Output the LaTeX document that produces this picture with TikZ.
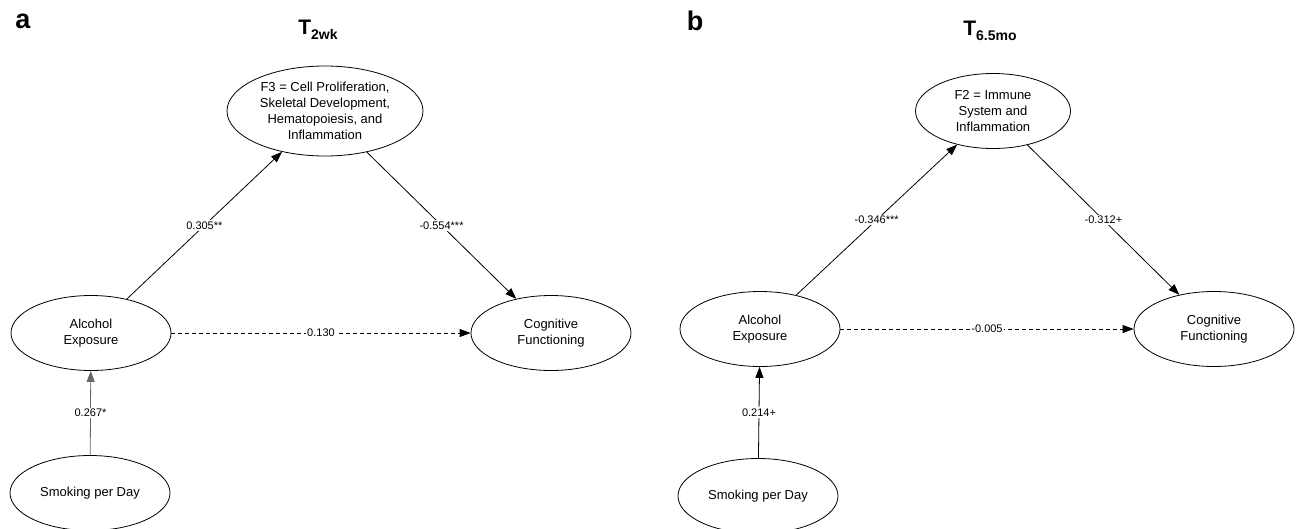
\documentclass[tikz,border=0pt]{standalone}
\usepackage{fontspec}
\setmainfont{Liberation Sans}
\usetikzlibrary{arrows.meta,
							calc,
							quotes,
							positioning,
							shapes.geometric}

\begin{document}
\begin{tikzpicture}[x=1pt, y=-1pt,
		base/.style = {draw, ellipse, line width=0.8pt, inner sep=0pt,
									 align=center, font=\fontsize{13}{16}\selectfont},
	latent/.style = {base, minimum width=160pt, minimum height=75pt},
	factor/.style = {base, minimum width=196pt, minimum height=90pt},
	 panel/.style = {font=\bfseries\fontsize{27}{27}\selectfont},
	 title/.style = {font=\bfseries\fontsize{21}{21}\selectfont},
		path/.style = {line width=0.8pt, -{Triangle[length=11pt,width=8pt]}},
	 nopath/.style = {dash pattern=on 4pt off 3pt},
every edge quotes/.style = {fill=white, inner sep=1.5pt,
									 font=\fontsize{11}{12}\selectfont}]
\useasboundingbox (0,0) rectangle (1296,528);
%% panel a
\node [panel]  (a-lbl) at (23,21)   {a};
\node [title]  (a-ttl) at (318,30)  {T\raisebox{-5pt}{\fontsize{14}{14}\selectfont 2wk}};
\node [factor] (a-fac) at (325,111) {F3 = Cell Proliferation,\\ Skeletal Development,\\
																		 Hematopoiesis, and\\ Inflammation};
\node [latent] (a-alc) at (91,333)  {Alcohol\\ Exposure};
\node [latent] (a-cog) at (551,333) {Cognitive\\ Functioning};
\node [latent] (a-smk) at (90,493)  {Smoking per Day};
%
\draw [path]
	(a-alc) edge["0.305**"]                   (a-fac)
	(a-fac) edge["-0.554***"]                 (a-cog)
	(a-alc) edge[nopath, "0.130"]             (a-cog)
	(a-smk) edge[draw=black!60, "0.267*"]     (a-alc)
	;
%% panel b
\node [panel]  (b-lbl) at (695,21)  {b};
\node [title]  (b-ttl) at (990,31)  {T\raisebox{-5pt}{\fontsize{14}{14}\selectfont 6.5mo}};
\node [latent, minimum width=155pt]
							 (b-fac) at (993,111) {F2 = Immune\\ System and\\ Inflammation};
\node [latent] (b-alc) at (760,329) {Alcohol\\ Exposure};
\node [latent] (b-cog) at (1214,329) {Cognitive\\ Functioning};
\node [latent] (b-smk) at (758,496) {Smoking per Day};
%
\draw [path]
	(b-alc) edge["-0.346***"]                 (b-fac)
	(b-fac) edge["-0.312+"]                   (b-cog)
	(b-alc) edge[nopath, "-0.005"]            (b-cog)
	(b-smk) edge["0.214+"]                    (b-alc)
	;
\end{tikzpicture}
\end{document}
